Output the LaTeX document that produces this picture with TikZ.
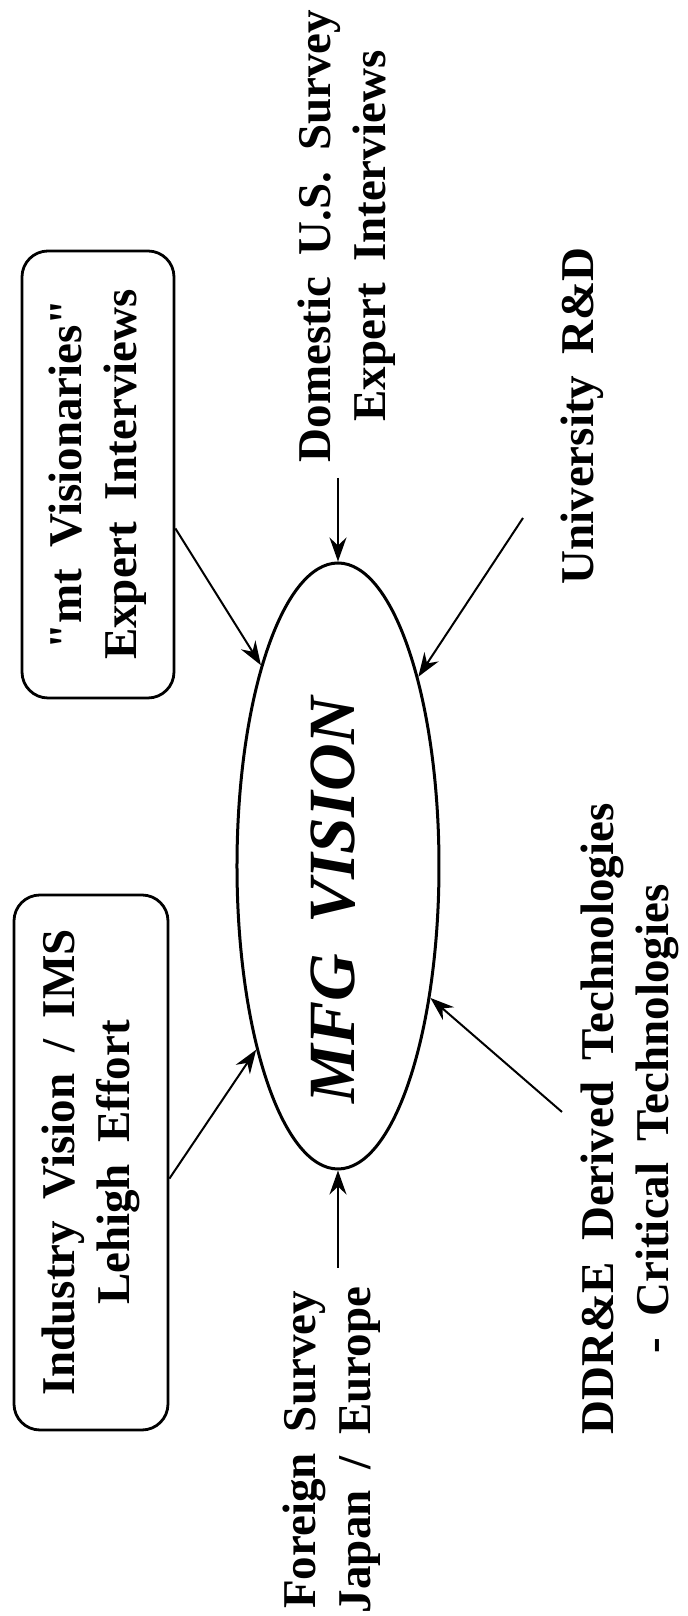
\documentclass[tikz,border=0pt]{standalone}
\usepackage{fontspec}
\setmainfont{Liberation Serif}[WordSpace=1.8]
\usetikzlibrary{shapes.geometric, arrows.meta, calc}

\begin{document}
\begin{tikzpicture}[x=0.5pt, y=0.5pt, rotate=90, transform shape,
        source/.style={font=\bfseries\fontsize{23.5}{27.5}\selectfont, align=center, inner sep=0pt},
        srcbox/.style={source, draw, line width=1.4pt, rounded corners=13pt},
        feed/.style={line width=1pt, -{Stealth[length=12pt, width=8.5pt, inset=4pt]}}]
  \useasboundingbox (0,0) rectangle (1616,688);
  % centre
  \node[ellipse, draw, line width=1.5pt, minimum width=303pt, minimum height=101pt, inner sep=0pt] (vision) at (750,350) {};
  \node[font=\bfseries\itshape\fontsize{33}{38}\selectfont] (visionlbl) at (716,355) {MFG VISION};
  % sources
  \node[srcbox, minimum width=223.5pt, minimum height=76pt] (vis) at (1141.5,590) {\textquotedbl mt Visionaries\textquotedbl\\ Expert Interviews};
  \node[srcbox, minimum width=267.5pt, minimum height=77pt] (ind) at (453.5,597) {Industry Vision / IMS\\ Lehigh Effort};
  \node[source] (dom) at (1380,341) {Domestic U.S. Survey\\ Expert Interviews};
  \node[source] (univ) at (1200,106) {University R\&D};
  \node[source] (frgn) at (166,356) {Foreign Survey\\ Japan / Europe};
  \node[source] (ddre) at (497,58) {DDR\&E Derived Technologies\\ - Critical Technologies};
  \coordinate (domend) at (1138,350);
  \coordinate (univend) at (1098,165);
  \coordinate (frgnend) at (348,350);
  \coordinate (ddreend) at (504,126);
  % arrows
  \draw[feed] ($(vis.south west)!0.38!(vis.south east)$) -- (vision.21);
  \draw[feed] ($(ind.south west)!0.47!(ind.south east)$) -- (vision.156);
  \draw[feed] (domend) -- (vision.east);
  \draw[feed] (univend) -- (vision.-23);
  \draw[feed] (frgnend) -- (vision.west);
  \draw[feed] (ddreend) -- (vision.-145);
\end{tikzpicture}
\end{document}
